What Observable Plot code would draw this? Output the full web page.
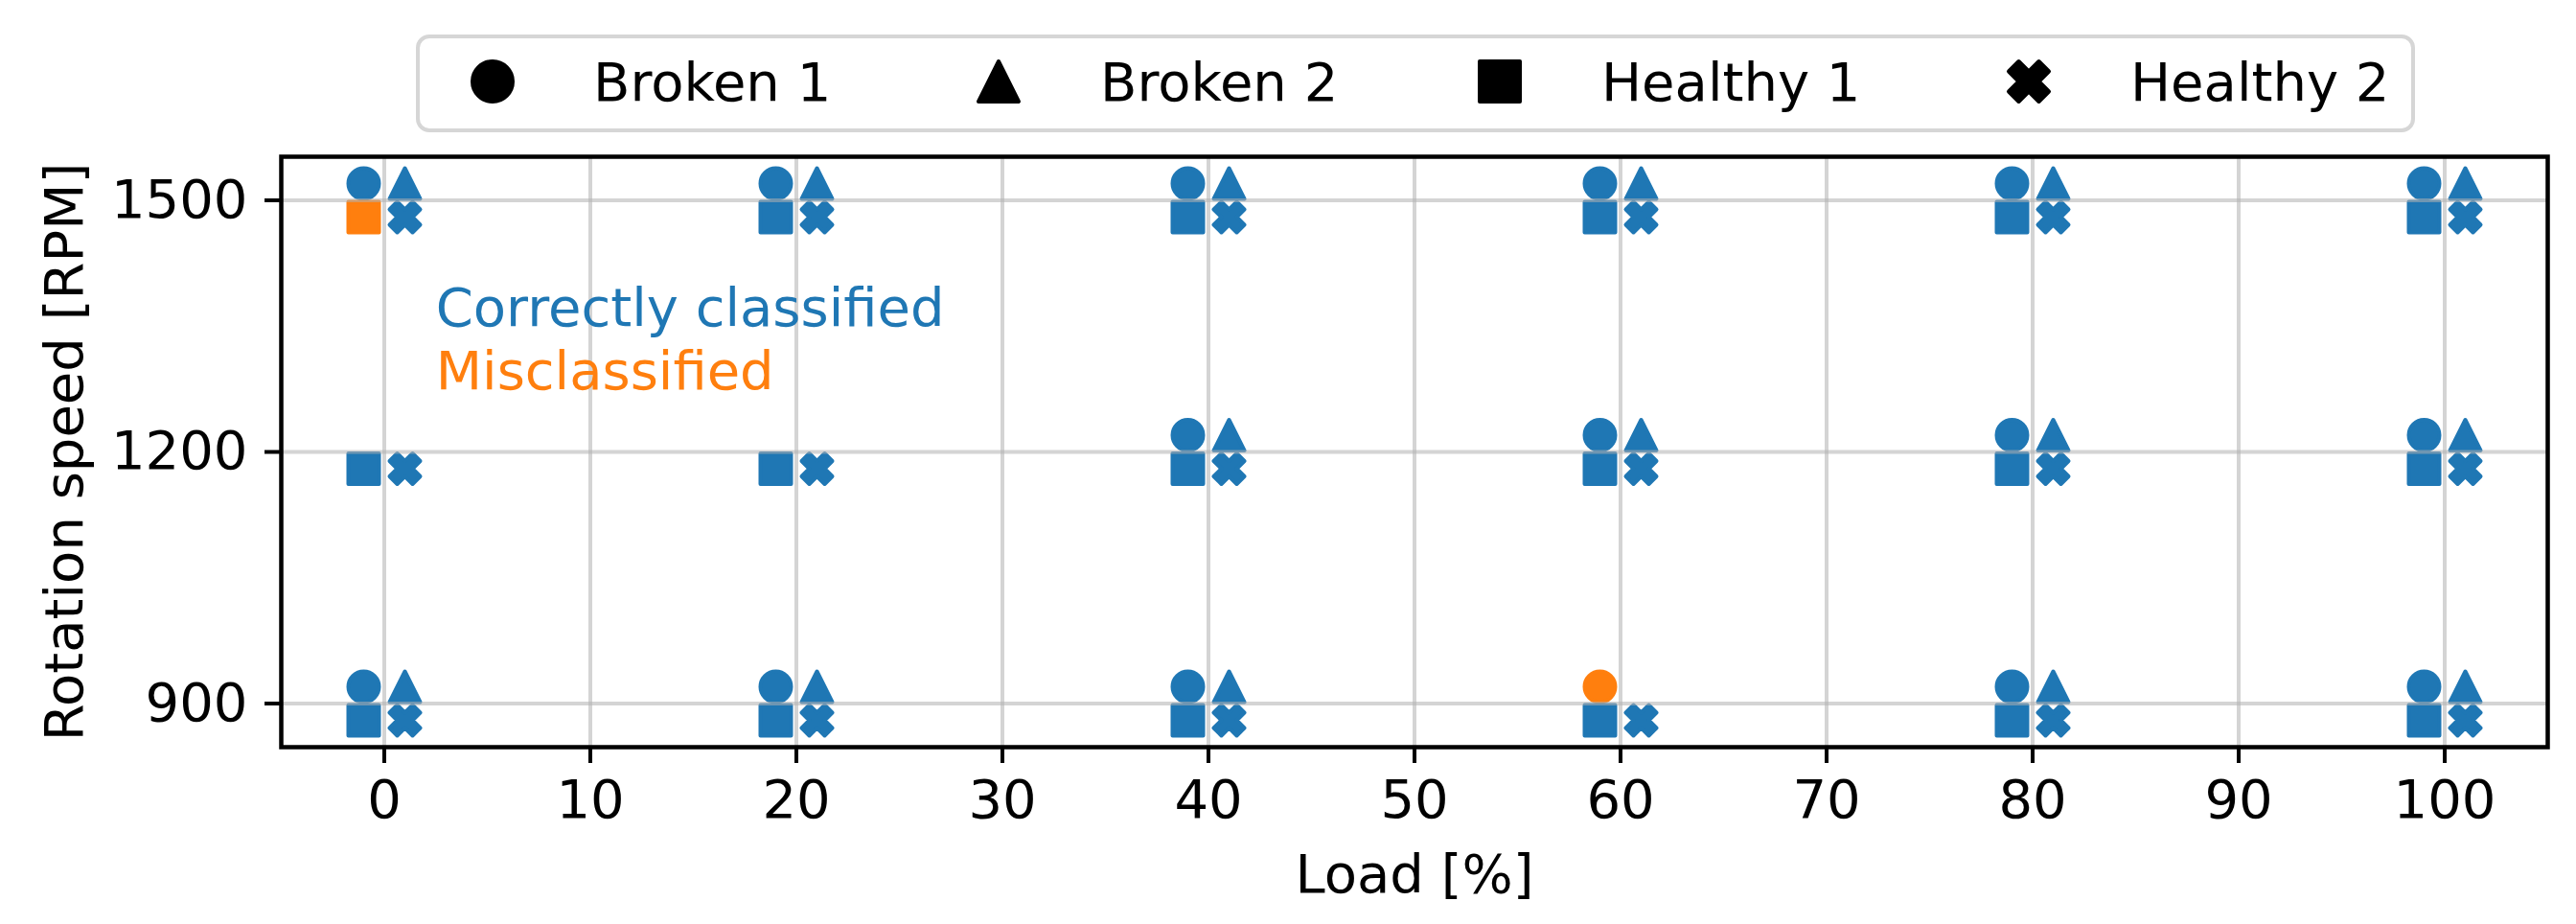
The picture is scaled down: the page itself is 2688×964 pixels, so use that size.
<!DOCTYPE html>
<html>
<head>
<meta charset="utf-8">
<script src="https://cdn.jsdelivr.net/npm/d3@7"></script>
<script src="https://cdn.jsdelivr.net/npm/@observablehq/plot@0.6"></script>
<style>
  html, body { margin: 0; padding: 0; background: white; }
  body { width: 2688px; height: 964px; overflow: hidden; font-family: "DejaVu Sans", sans-serif; }
  #legend { display: block; }
  #chart svg { display: block; }
</style>
</head>
<body>
<svg id="legend" width="2688" height="150"></svg>
<div id="chart"></div>
<script>
// ---- data ----
const loads = [0, 20, 40, 60, 80, 100];
const speeds = [900, 1200, 1500];
const classes = ["Broken 1", "Broken 2", "Healthy 1", "Healthy 2"];
const classShapes = ["circle", "triangle", "square", "x"];
const classLoadOffset = [-1, 1, -1, 1];     // horizontal dodge per class, in % load
const classSpeedOffset = [20, 20, -20, -20]; // vertical dodge per class, in RPM
// points that were not recorded
const missingClass = ["Broken 1", "Broken 2", "Broken 1", "Broken 2", "Broken 2"];
const missingLoad  = [0, 0, 20, 20, 60];
const missingSpeed = [1200, 1200, 1200, 1200, 900];
// misclassified samples
const misClass = ["Healthy 1", "Broken 1"];
const misLoad  = [0, 60];
const misSpeed = [1500, 900];
const xTicks = [0, 10, 20, 30, 40, 50, 60, 70, 80, 90, 100];
const yTicks = [900, 1200, 1500];
const annText = ["Correctly classified", "Misclassified"];
const annStatus = ["correct", "mis"];
const annLoad = [2.5, 2.5];
const annSpeed = [1350, 1275];
const xLabel = "Load [%]";
const yLabel = "Rotation speed [RPM]";

const BLUE = "#1f77b4", ORANGE = "#ff7f0e";
const FONT = "DejaVu Sans";

// ---- symbols (matplotlib-like) ----
const xPts = [[0.25,0],[0.5,0.25],[0.75,0],[1,0.25],[0.75,0.5],[1,0.75],[0.75,1],[0.5,0.75],[0.25,1],[0,0.75],[0.25,0.5],[0,0.25]];
function makeSym(kind) {
  return {
    draw(ctx, size) {
      const s = 2 * Math.sqrt(size / Math.PI), h = s / 2;
      if (kind === "circle") { ctx.moveTo(h, 0); ctx.arc(0, 0, h, 0, 2 * Math.PI); ctx.closePath(); }
      else if (kind === "square") { ctx.moveTo(-h, -h); ctx.lineTo(h, -h); ctx.lineTo(h, h); ctx.lineTo(-h, h); ctx.closePath(); }
      else if (kind === "triangle") { ctx.moveTo(0, -h); ctx.lineTo(h, h); ctx.lineTo(-h, h); ctx.closePath(); }
      else {
        xPts.forEach(([px, py], i) => {
          const X = (px - 0.5) * s, Y = (py - 0.5) * s;
          if (i === 0) ctx.moveTo(X, Y); else ctx.lineTo(X, Y);
        });
        ctx.closePath();
      }
    }
  };
}
const symbols = classShapes.map(makeSym);

// ---- build table ----
const key = (c, l, s) => `${c}|${l}|${s}`;
const missingSet = new Set(missingClass.map((c, i) => key(c, missingLoad[i], missingSpeed[i])));
const misSet = new Set(misClass.map((c, i) => key(c, misLoad[i], misSpeed[i])));
const rows = [];
classes.forEach((c, ci) => {
  speeds.forEach(s => {
    loads.forEach(l => {
      if (missingSet.has(key(c, l, s))) return;
      rows.push({
        cls: c, ci,
        x: l + classLoadOffset[ci],
        y: s + classSpeedOffset[ci],
        status: misSet.has(key(c, l, s)) ? "mis" : "correct"
      });
    });
  });
});
const ann = annText.map((t, i) => ({t, x: annLoad[i], y: annSpeed[i], status: annStatus[i]}));

// ---- plot ----
const marks = [];
classes.forEach((c, ci) => {
  marks.push(Plot.dot(rows.filter(d => d.ci === ci), {
    x: "x", y: "y", r: 16, symbol: symbols[ci],
    fill: "status", stroke: "status", strokeWidth: 4, strokeLinejoin: "round"
  }));
});
marks.push(
  Plot.gridX(xTicks, {stroke: "#b0b0b0", strokeOpacity: 0.55, strokeWidth: 4}),
  Plot.gridY(yTicks, {stroke: "#b0b0b0", strokeOpacity: 0.55, strokeWidth: 4}),
  Plot.text(ann, {x: "x", y: "y", text: "t", fill: "status", textAnchor: "start", lineAnchor: "bottom", fontSize: 56}),
  Plot.axisX({ticks: xTicks, tickFormat: d => String(d), tickSize: 17, tickPadding: 17, strokeWidth: 4, fontSize: 56, label: null}),
  Plot.axisY({ticks: yTicks, tickFormat: d => String(d), tickSize: 17, tickPadding: 18, strokeWidth: 4, fontSize: 56, label: null}),
  Plot.text([xLabel], {frameAnchor: "bottom", dy: 151, lineAnchor: "bottom", fontSize: 56, fill: "black"}),
  Plot.text([yLabel], {frameAnchor: "left", rotate: -90, textAnchor: "middle", lineAnchor: "bottom", dx: -208, fontSize: 56, fill: "black"}),
  Plot.frame({stroke: "black", strokeWidth: 4.5})
);

const chart = Plot.plot({
  width: 2688,
  height: 814,
  marginTop: 13,
  marginBottom: 185,
  marginLeft: 293,
  marginRight: 30,
  x: {domain: [-5, 105]},
  y: {domain: [848, 1552]},
  color: {domain: ["correct", "mis"], range: [BLUE, ORANGE]},
  style: {fontFamily: FONT, fontSize: "56px", background: "white", color: "black", overflow: "visible"},
  marks
});
document.getElementById("chart").appendChild(chart);

// ---- legend (above the plot) ----
const leg = d3.select("#legend");
leg.append("rect")
  .attr("x", 436).attr("y", 38).attr("width", 2082).attr("height", 98)
  .attr("rx", 12).attr("ry", 12)
  .attr("fill", "white").attr("stroke", "#d6d6d6").attr("stroke-width", 4);
const legMarkerX = [514, 1042, 1565, 2117];
const legTextX = [619, 1148, 1671, 2223];
classes.forEach((c, ci) => {
  const p = d3.path();
  symbols[ci].draw(p, Math.PI * 21 * 21);
  leg.append("path")
    .attr("transform", `translate(${legMarkerX[ci]},85)`)
    .attr("d", p.toString())
    .attr("fill", "black").attr("stroke", "black").attr("stroke-width", 4).attr("stroke-linejoin", "round");
  leg.append("text")
    .attr("x", legTextX[ci]).attr("y", 105)
    .attr("font-family", FONT).attr("font-size", 56).attr("fill", "black")
    .text(c);
});
</script>
</body>
</html>
